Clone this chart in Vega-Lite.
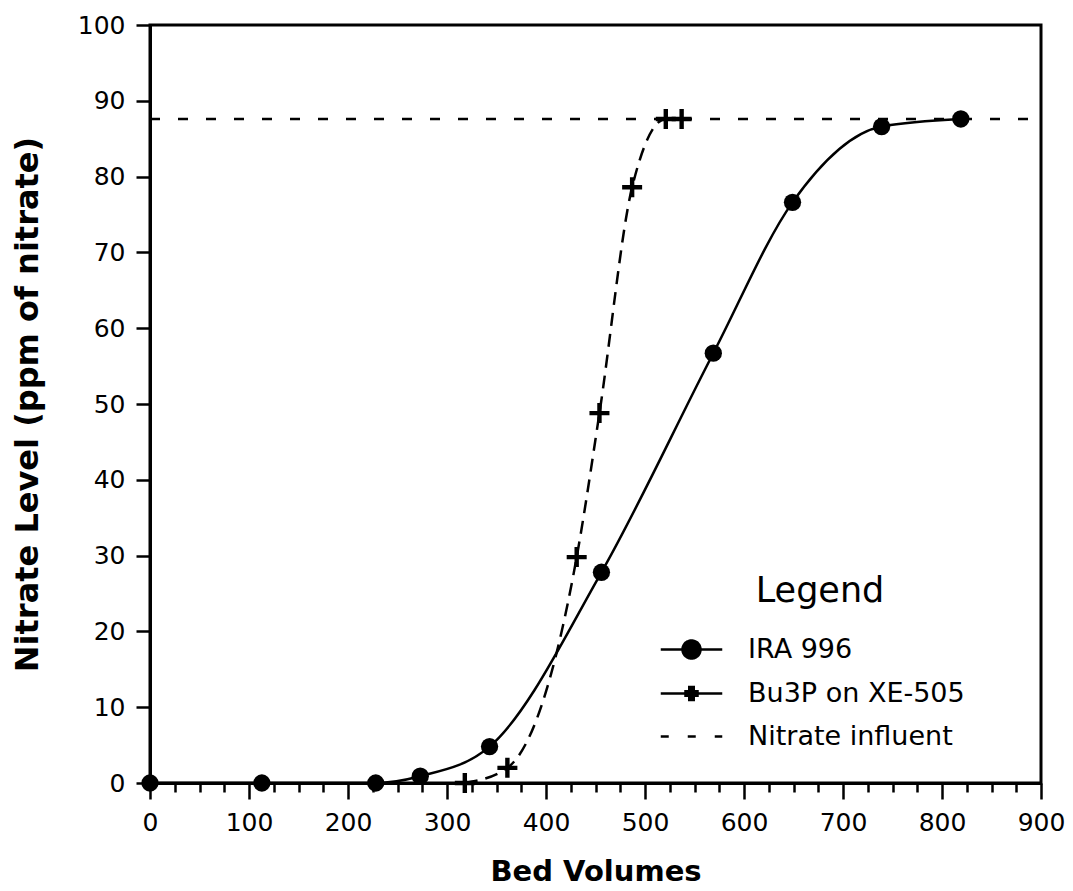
{
  "$schema": "https://vega.github.io/schema/vega-lite/v6.json",
  "width": 891,
  "height": 758,
  "autosize": {"type": "none"},
  "padding": {"left": 150, "top": 25, "right": 32, "bottom": 108},
  "background": "white",
  "config": {
    "font": "DejaVu Sans",
    "view": {"stroke": "black", "strokeWidth": 3},
    "axis": {
      "domainColor": "black",
      "domainWidth": 3,
      "tickColor": "black",
      "tickWidth": 2.5,
      "labelColor": "black",
      "titleColor": "black",
      "labelFont": "DejaVu Sans",
      "titleFont": "DejaVu Sans",
      "grid": false,
      "labelFlush": false,
      "labelBound": false,
      "labelOverlap": false
    }
  },
  "data": {
    "values": [
      {"series": "IRA 996", "bv": 0, "nitrate": 0},
      {"series": "IRA 996", "bv": 113, "nitrate": 0},
      {"series": "IRA 996", "bv": 228, "nitrate": 0},
      {"series": "IRA 996", "bv": 273, "nitrate": 0.9},
      {"series": "IRA 996", "bv": 343, "nitrate": 4.8},
      {"series": "IRA 996", "bv": 456, "nitrate": 27.8},
      {"series": "IRA 996", "bv": 569, "nitrate": 56.7},
      {"series": "IRA 996", "bv": 649, "nitrate": 76.6},
      {"series": "IRA 996", "bv": 739, "nitrate": 86.6},
      {"series": "IRA 996", "bv": 819, "nitrate": 87.6},
      {"series": "Bu3P on XE-505", "bv": 318, "nitrate": 0},
      {"series": "Bu3P on XE-505", "bv": 361, "nitrate": 2},
      {"series": "Bu3P on XE-505", "bv": 431, "nitrate": 29.8},
      {"series": "Bu3P on XE-505", "bv": 454, "nitrate": 48.8},
      {"series": "Bu3P on XE-505", "bv": 487, "nitrate": 78.6},
      {"series": "Bu3P on XE-505", "bv": 521, "nitrate": 87.6},
      {"series": "Bu3P on XE-505", "bv": 537, "nitrate": 87.6},
      {"series": "Nitrate influent", "bv": 0, "nitrate": 87.6},
      {"series": "Nitrate influent", "bv": 900, "nitrate": 87.6}
    ]
  },
  "encoding": {
    "x": {
      "field": "bv",
      "type": "quantitative",
      "scale": {"domain": [0, 900], "nice": false, "zero": false},
      "axis": {
        "title": "Bed Volumes",
        "titleFontSize": 29,
        "titleFontWeight": "bold",
        "titlePadding": 22,
        "values": [0,25,50,75,100,125,150,175,200,225,250,275,300,325,350,375,400,425,450,475,500,525,550,575,600,625,650,675,700,725,750,775,800,825,850,875,900],
        "tickSize": {"condition": {"test": "datum.value % 100 === 0", "value": 16}, "value": 9},
        "labelExpr": "datum.value % 100 === 0 ? datum.label : ''",
        "labelFontSize": 25,
        "labelPadding": 11
      }
    },
    "y": {
      "field": "nitrate",
      "type": "quantitative",
      "scale": {"domain": [0, 100], "nice": false},
      "axis": {
        "title": "Nitrate Level (ppm of nitrate)",
        "titleFontSize": 32,
        "titleFontWeight": "bold",
        "titlePadding": 33,
        "values": [0,10,20,30,40,50,60,70,80,90,100],
        "tickSize": 14,
        "labelFontSize": 25,
        "labelPadding": 11
      }
    }
  },
  "layer": [
    {
      "transform": [{"filter": "datum.series === 'IRA 996'"}],
      "mark": {"type": "line", "interpolate": "monotone", "strokeWidth": 2.5},
      "encoding": {
        "color": {
          "field": "series",
          "type": "nominal",
          "scale": {"domain": ["IRA 996", "Bu3P on XE-505", "Nitrate influent"], "range": ["black", "black", "black"]},
          "legend": {
            "title": "Legend",
            "orient": "none",
            "legendX": 525,
            "legendY": 549,
            "padding": 0,
            "titleFontSize": 35,
            "titleFontWeight": "normal",
            "titleFont": "DejaVu Sans",
            "titleColor": "black",
            "titleAnchor": "middle",
            "titlePadding": 24,
            "labelFontSize": 27,
            "labelFont": "DejaVu Sans",
            "labelColor": "black",
            "labelLimit": 500,
            "labelOffset": 40,
            "rowPadding": 13,
            "symbolSize": 900,
            "symbolStrokeWidth": 2.5,
            "symbolType": "stroke",
            "encode": {
              "symbols": {
                "update": {
                  "shape": {"signal": "datum.value === 'IRA 996' ? 'M-2.05,0H2.05M0.6,0A0.6,0.6,0,1,1,-0.6,0A0.6,0.6,0,1,1,0.6,0Z' : datum.value === 'Bu3P on XE-505' ? 'M-2.05,0H2.05M-0.4,-0.15H-0.15V-0.43H0.15V-0.15H0.4V0.15H0.15V0.43H-0.15V0.15H-0.4Z' : 'M-2.05,0H2.05'"},
                  "strokeDash": {"signal": "datum.value === 'Nitrate influent' ? [8, 19] : [1, 0]"},
                  "fill": {"value": "black"},
                  "stroke": {"value": "black"},
                  "strokeWidth": {"value": 2.5}
                }
              }
            }
          }
        }
      }
    },
    {
      "transform": [{"filter": "datum.series === 'Bu3P on XE-505'"}],
      "mark": {"type": "line", "interpolate": "monotone", "strokeWidth": 2.5, "strokeDash": [13, 8], "color": "black"}
    },
    {
      "transform": [{"filter": "datum.series === 'Nitrate influent'"}],
      "mark": {"type": "line", "strokeWidth": 2.5, "strokeDash": [10, 18], "color": "black"}
    },
    {
      "transform": [{"filter": "datum.series === 'IRA 996'"}],
      "mark": {"type": "point", "shape": "circle", "filled": true, "size": 300, "color": "black", "opacity": 1}
    },
    {
      "transform": [{"filter": "datum.series === 'Bu3P on XE-505'"}],
      "mark": {"type": "point", "shape": "M-1,-0.22H-0.22V-1H0.22V-0.22H1V0.22H0.22V1H-0.22V0.22H-1Z", "filled": true, "size": 400, "color": "black", "opacity": 1}
    }
  ]
}
